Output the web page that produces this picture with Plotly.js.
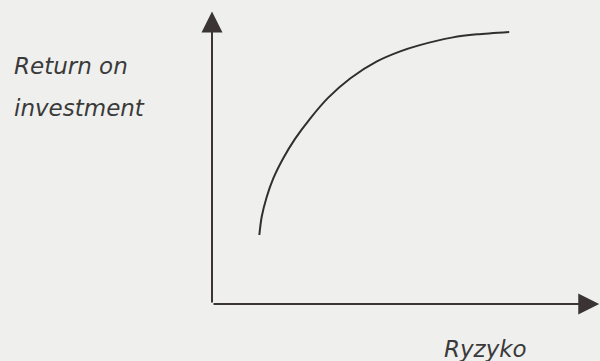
<!DOCTYPE html>
<html>
<head>
<meta charset="utf-8">
<script src="https://cdn.plot.ly/plotly-3.0.1.min.js"></script>
<style>html,body{margin:0;padding:0;background:#eff0ee;}#chart{width:600px;height:361px;}</style>
</head>
<body>
<div id="chart"></div>
<script>
// Risk (x) vs return on investment (y), arbitrary units
const risk = [1.22, 1.28, 1.41, 1.58, 1.84, 2.14, 2.53, 2.99, 3.56, 4.25, 4.85, 5.31, 6.21, 6.83, 7.66];
const returnOnInvestment = [2.27, 2.86, 3.52, 4.13, 4.80, 5.43, 6.10, 6.78, 7.42, 7.98, 8.31, 8.50, 8.77, 8.87, 8.95];
const yTitleLines = ["Return on", "investment"];
const xTitle = "Ryzyko";

const axisColor = "#3a3434";
const fontSpec = {family: "DejaVu Sans", size: 23, color: "#3a3a3a"};

const trace = {
  x: risk, y: returnOnInvestment, type: "scatter", mode: "lines",
  line: {color: "#2f2f2f", width: 2, shape: "spline", smoothing: 0.8},
  hoverinfo: "skip"
};

const layout = {
  width: 600, height: 361,
  margin: {l: 212, r: 0, t: 0, b: 57},
  paper_bgcolor: "#eff0ee", plot_bgcolor: "#eff0ee",
  showlegend: false,
  xaxis: {range: [0, 10], showgrid: false, zeroline: false, showticklabels: false, showline: false, ticks: "", fixedrange: true},
  yaxis: {range: [0, 10], showgrid: false, zeroline: false, showticklabels: false, showline: false, ticks: "", fixedrange: true},
  annotations: [
    // vertical axis with arrow
    {xref: "x", yref: "y", axref: "x", ayref: "y", x: 0, y: 9.62, ax: 0, ay: 0, text: "", showarrow: true,
     arrowhead: 2, arrowsize: 2.1, arrowwidth: 2, arrowcolor: axisColor},
    // horizontal axis with arrow
    {xref: "x", yref: "y", axref: "x", ayref: "y", x: 9.98, y: 0, ax: 0, ay: 0, text: "", showarrow: true,
     arrowhead: 2, arrowsize: 2.1, arrowwidth: 2, arrowcolor: axisColor},
    {xref: "paper", yref: "paper", x: -0.515, y: 0.782, xanchor: "left", yanchor: "middle", showarrow: false,
     text: "<i>" + yTitleLines[0] + "</i>", font: fontSpec},
    {xref: "paper", yref: "paper", x: -0.515, y: 0.645, xanchor: "left", yanchor: "middle", showarrow: false,
     text: "<i>" + yTitleLines[1] + "</i>", font: fontSpec},
    {xref: "paper", yref: "paper", x: 0.593, y: -0.147, xanchor: "left", yanchor: "middle", showarrow: false,
     text: "<i>" + xTitle + "</i>", font: fontSpec}
  ]
};

Plotly.newPlot("chart", [trace], layout, {staticPlot: true, displayModeBar: false});
</script>
</body>
</html>
